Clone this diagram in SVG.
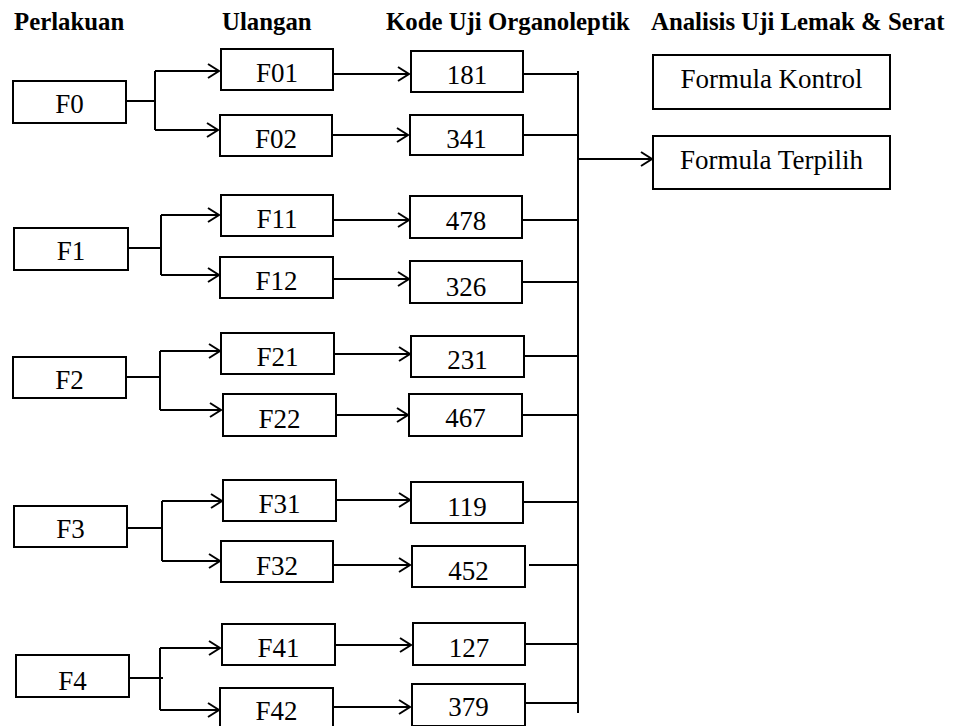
<svg xmlns="http://www.w3.org/2000/svg" width="953" height="726" viewBox="0 0 953 726">
<style>
.b{fill:#fff;stroke:#000;stroke-width:2}
.t{font-family:"Liberation Serif","Times New Roman",serif;font-size:27px;fill:#000;text-anchor:middle}
.h{font-family:"Liberation Serif","Times New Roman",serif;font-size:24.8px;font-weight:bold;fill:#000}
.c{fill:none;stroke:#000;stroke-width:2}
</style>
<defs>
<marker id="a" markerUnits="userSpaceOnUse" markerWidth="14" markerHeight="16" refX="12" refY="8" orient="auto">
<path d="M1,1 L12,8 L1,15" fill="none" stroke="#000" stroke-width="2"/>
</marker>
</defs>
<rect width="953" height="726" fill="#fff"/>
<g id="headers">
<text class="h" x="14" y="30">Perlakuan</text>
<text class="h" x="222" y="30">Ulangan</text>
<text class="h" x="386" y="30">Kode Uji Organoleptik</text>
<text class="h" x="651" y="30">Analisis Uji Lemak &amp; Serat</text>
</g>
<g id="connectors">
<path class="c" d="M126,101 H155"/>
<path class="c" d="M155,71 V130"/>
<path class="c" d="M155,71 H219" marker-end="url(#a)"/>
<path class="c" d="M155,130 H218" marker-end="url(#a)"/>
<path class="c" d="M334,74 H409" marker-end="url(#a)"/>
<path class="c" d="M332,135 H408" marker-end="url(#a)"/>
<path class="c" d="M128,248 H161"/>
<path class="c" d="M161,215 V275"/>
<path class="c" d="M161,215 H219" marker-end="url(#a)"/>
<path class="c" d="M161,275 H219" marker-end="url(#a)"/>
<path class="c" d="M334,220 H409" marker-end="url(#a)"/>
<path class="c" d="M334,279 H409" marker-end="url(#a)"/>
<path class="c" d="M126,377 H160"/>
<path class="c" d="M160,351 V410"/>
<path class="c" d="M160,351 H220" marker-end="url(#a)"/>
<path class="c" d="M160,410 H221" marker-end="url(#a)"/>
<path class="c" d="M335,354 H410" marker-end="url(#a)"/>
<path class="c" d="M335,415 H408" marker-end="url(#a)"/>
<path class="c" d="M128,528 H162"/>
<path class="c" d="M162,501 V561"/>
<path class="c" d="M162,501 H222" marker-end="url(#a)"/>
<path class="c" d="M162,561 H220" marker-end="url(#a)"/>
<path class="c" d="M336,500 H410" marker-end="url(#a)"/>
<path class="c" d="M334,565 H410" marker-end="url(#a)"/>
<path class="c" d="M130,678 H163"/>
<path class="c" d="M160,648 V710"/>
<path class="c" d="M160,648 H220" marker-end="url(#a)"/>
<path class="c" d="M160,710 H219" marker-end="url(#a)"/>
<path class="c" d="M335,645 H411" marker-end="url(#a)"/>
<path class="c" d="M334,707 H410" marker-end="url(#a)"/>
<path class="c" d="M523,74 H578"/>
<path class="c" d="M523,135 H578"/>
<path class="c" d="M522,220 H578"/>
<path class="c" d="M522,282 H578"/>
<path class="c" d="M524,356 H578"/>
<path class="c" d="M522,415 H578"/>
<path class="c" d="M523,502 H578"/>
<path class="c" d="M529,565 H578"/>
<path class="c" d="M525,644 H578"/>
<path class="c" d="M525,703 H578"/>
<path class="c" d="M578,71 V713"/>
<path class="c" d="M578,159 H652" marker-end="url(#a)"/>
</g>
<g id="F0"><rect class="b" x="13" y="81" width="113" height="42"/><text class="t" x="69.5" y="113">F0</text></g>
<g id="F1"><rect class="b" x="14" y="228" width="114" height="42"/><text class="t" x="71" y="260">F1</text></g>
<g id="F2"><rect class="b" x="13" y="357" width="113" height="41"/><text class="t" x="69.5" y="389">F2</text></g>
<g id="F3"><rect class="b" x="14" y="506" width="113" height="41"/><text class="t" x="70.5" y="538">F3</text></g>
<g id="F4"><rect class="b" x="16" y="655" width="113" height="42"/><text class="t" x="72.5" y="690">F4</text></g>
<g id="F01"><rect class="b" x="221" y="49" width="112" height="41"/><text class="t" x="277" y="82">F01</text></g>
<g id="F02"><rect class="b" x="220" y="115" width="112" height="41"/><text class="t" x="276" y="148">F02</text></g>
<g id="F11"><rect class="b" x="221" y="195" width="112" height="41"/><text class="t" x="277" y="228">F11</text></g>
<g id="F12"><rect class="b" x="220" y="257" width="113" height="41"/><text class="t" x="276.5" y="290">F12</text></g>
<g id="F21"><rect class="b" x="221" y="333" width="113" height="41"/><text class="t" x="277.5" y="366">F21</text></g>
<g id="F22"><rect class="b" x="223" y="394" width="113" height="42"/><text class="t" x="279.5" y="428">F22</text></g>
<g id="F31"><rect class="b" x="223" y="480" width="113" height="41"/><text class="t" x="279.5" y="513">F31</text></g>
<g id="F32"><rect class="b" x="221" y="541" width="112" height="41"/><text class="t" x="277" y="575">F32</text></g>
<g id="F41"><rect class="b" x="222" y="624" width="113" height="41"/><text class="t" x="278.5" y="657">F41</text></g>
<g id="F42"><rect class="b" x="220" y="688" width="113" height="41"/><text class="t" x="276.5" y="720">F42</text></g>
<g id="k181"><rect class="b" x="411" y="51" width="112" height="41"/><text class="t" x="467" y="84">181</text></g>
<g id="k341"><rect class="b" x="410" y="115" width="113" height="40"/><text class="t" x="466.5" y="148">341</text></g>
<g id="k478"><rect class="b" x="410" y="196" width="112" height="42"/><text class="t" x="466" y="230">478</text></g>
<g id="k326"><rect class="b" x="410" y="261" width="112" height="42"/><text class="t" x="466" y="296">326</text></g>
<g id="k231"><rect class="b" x="411" y="336" width="113" height="41"/><text class="t" x="467.5" y="369">231</text></g>
<g id="k467"><rect class="b" x="409" y="394" width="113" height="42"/><text class="t" x="465.5" y="427">467</text></g>
<g id="k119"><rect class="b" x="411" y="482" width="112" height="41"/><text class="t" x="467" y="516">119</text></g>
<g id="k452"><rect class="b" x="412" y="546" width="113" height="41"/><text class="t" x="468.5" y="580">452</text></g>
<g id="k127"><rect class="b" x="413" y="623" width="112" height="42"/><text class="t" x="469" y="657">127</text></g>
<g id="k379"><rect class="b" x="412" y="684" width="113" height="42"/><text class="t" x="468.5" y="716">379</text></g>
<g id="kontrol"><rect class="b" x="653" y="55" width="237" height="54"/><text class="t" x="771.5" y="88">Formula Kontrol</text></g>
<g id="terpilih"><rect class="b" x="653" y="136" width="237" height="53"/><text class="t" x="771.5" y="169">Formula Terpilih</text></g>
</svg>
